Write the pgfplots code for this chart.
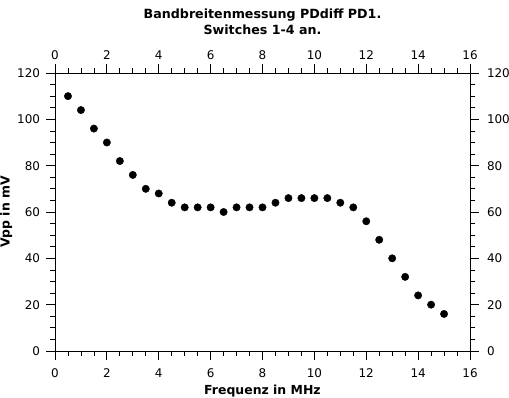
\documentclass[border=0pt]{standalone}
\usepackage{pgfplots}
\pgfplotsset{compat=1.18}
\usepackage{fontspec}
\setmainfont{DejaVu Sans}
\begin{document}
\begin{tikzpicture}
\pgfplotsset{
  common/.style={
    scale only axis, width=415bp, height=278bp,
    xmin=0, xmax=16, ymin=0, ymax=120,
    xtick={0,2,...,16}, ytick={0,20,...,120},
    minor x tick num=3, minor y tick num=3,
    tick align=outside,
    major tick length=8.5bp, minor tick length=5bp,
    every tick/.style={black, line width=0.8pt},
    axis line style={line width=0.8pt},
    ticklabel style={font=\fontsize{12}{13.5}\selectfont},
    /pgf/number format/assume math mode=true,
  }
}
\begin{axis}[common, name=ax,
  xtick pos=both, ytick pos=both,
  xticklabel pos=left, yticklabel pos=left,
  xticklabel style={yshift=-6bp},
  yticklabel style={xshift=-3bp},
  title={Bandbreitenmessung PDdiff PD1.\\Switches 1-4 an.},
  title style={font=\bfseries\fontsize{12.7}{15.5}\selectfont, align=center, yshift=29bp},
  xlabel={Frequenz in MHz}, ylabel={Vpp in mV},
  label style={font=\bfseries\fontsize{12.5}{14}\selectfont},
  xlabel style={yshift=0bp},
  ylabel style={yshift=-2bp},
]
\addplot[only marks, mark=*, mark size=3.7bp, black] coordinates {
(0.5,110) (1.0,104) (1.5,96) (2.0,90) (2.5,82) (3.0,76) (3.5,70) (4.0,68)
(4.5,64) (5.0,62) (5.5,62) (6.0,62) (6.5,60) (7.0,62) (7.5,62) (8.0,62)
(8.5,64) (9.0,66) (9.5,66) (10.0,66) (10.5,66) (11.0,64) (11.5,62) (12.0,56)
(12.5,48) (13.0,40) (13.5,32) (14.0,24) (14.5,20) (15.0,16)
};
\end{axis}
\begin{axis}[common,
  axis x line*=top, axis y line*=right,
  xticklabel style={yshift=1bp},
  yticklabel style={xshift=5bp},
]
\end{axis}
\pgfresetboundingbox
\path[use as bounding box] ([shift={(-55bp,-47bp)}]ax.south west) rectangle ([shift={(39bp,73bp)}]ax.north east);
\end{tikzpicture}
\end{document}
